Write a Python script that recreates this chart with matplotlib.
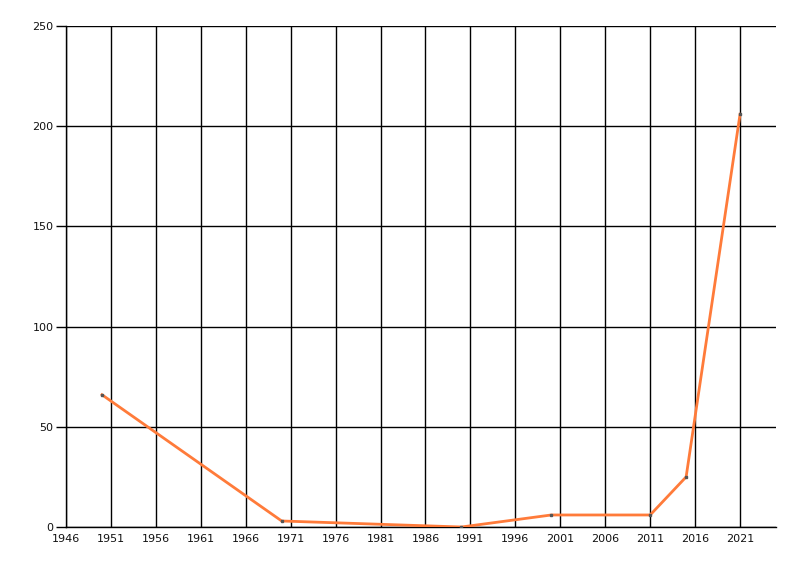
import matplotlib
matplotlib.use("Agg")
import matplotlib.pyplot as plt
import numpy as np

years = [1950, 1970, 1990, 2000, 2011, 2015, 2021]
values = [66, 3, 0, 6, 6, 25, 206]
x_ticks = list(range(1946, 2022, 5))
y_ticks = [0, 50, 100, 150, 200, 250]

plt.rcParams['font.family'] = ['DejaVu Sans']
fig = plt.figure(figsize=(8, 5.76), dpi=100)
ax = fig.add_axes([66/800, 1-527/576, (776-66)/800, (527-26)/576])

ax.plot(years, values, color='#FF7B3A', lw=2, zorder=3)
ax.plot(years, values, ls='none', marker='s', ms=1.5, color='#555555', zorder=4)

ax.set_xlim(1946, 2025)
ax.set_ylim(0, 250)
ax.set_xticks(x_ticks)
ax.set_yticks(y_ticks)
ax.tick_params(axis='both', labelsize=8, length=7, width=1, color='black', labelcolor='#111111')
ax.tick_params(axis='x', length=0, pad=5)
ax.tick_params(axis='y', pad=2)
ax.grid(True, color='black', lw=1)
ax.set_axisbelow(True)
for s in ['top', 'right']:
    ax.spines[s].set_visible(False)
for s in ['left', 'bottom']:
    ax.spines[s].set_linewidth(1)

fig.savefig('out.png', dpi=100)
